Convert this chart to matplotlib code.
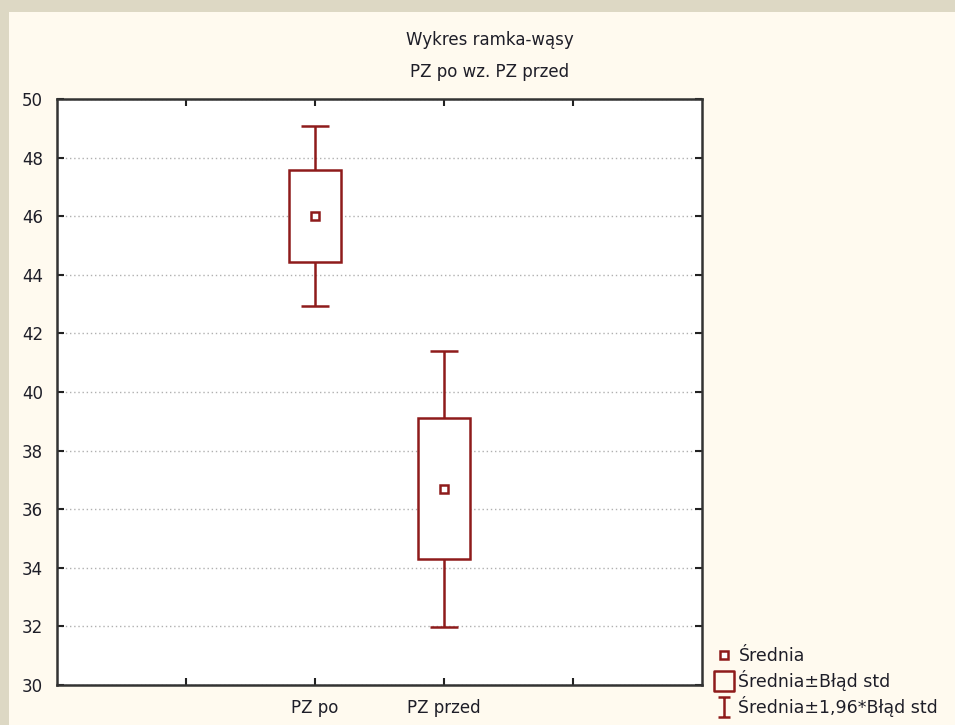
import matplotlib
matplotlib.use("Agg")
import matplotlib.pyplot as plt
import numpy as np
from matplotlib.lines import Line2D
from matplotlib.path import Path
from matplotlib.patches import Rectangle

# data
groups = ['PZ po', 'PZ przed']
means = [46.0, 36.7]
std_err = [1.57, 2.40]
z = 1.96

plt.rcParams['font.family'] = ['DejaVu Sans']
red = '#8e1b1b'
txt = '#1e1e28'

fig = plt.figure(figsize=(9.55, 7.25), dpi=100, facecolor='#ddd8c4')
fig.patches.append(Rectangle((9 / 955, 0), 1, 1 - 12 / 725, transform=fig.transFigure,
                             facecolor='#fffaef', edgecolor='none', zorder=-10))

ax = fig.add_axes([57 / 955, 40 / 725, 645 / 955, 586 / 725])
ax.set_facecolor('white')

pos = np.array([2, 3])
m = np.array(means)
se = np.array(std_err)

lw = 1.8
ax.errorbar(pos, m, yerr=z * se, fmt='none', ecolor=red, elinewidth=lw,
            capsize=10, capthick=lw, zorder=2)
ax.bar(pos, 2 * se, bottom=m - se, width=0.41, facecolor='white',
       edgecolor=red, linewidth=lw, zorder=3)
ax.plot(pos, m, linestyle='none', marker='s', markersize=6, markerfacecolor='white',
        markeredgecolor=red, markeredgewidth=lw, zorder=4)

ax.set_xlim(0, 5)
ax.set_ylim(30, 50)
ax.set_xticks([1, 2, 3, 4])
ax.set_xticklabels(['', groups[0], groups[1], ''], fontsize=12, color=txt)
ax.set_yticks(np.arange(30, 51, 2))
ax.tick_params(axis='y', labelsize=12, labelcolor=txt)
ax.tick_params(direction='in', length=5, width=1.5, color='#222222',
               top=True, right=True, pad=10)
ax.tick_params(axis='x', pad=10)
ax.yaxis.grid(True, linestyle=(0, (1, 2)), color='#b0b0b0', linewidth=1)
ax.set_axisbelow(True)
for s in ax.spines.values():
    s.set_linewidth(1.8)
    s.set_color('#333333')

fig.text(490 / 955, 1 - 40 / 725, 'Wykres ramka-wąsy', ha='center', va='center',
         fontsize=12, color=txt)
fig.text(490 / 955, 1 - 72 / 725, 'PZ po wz. PZ przed', ha='center', va='center',
         fontsize=12, color=txt)

# legend handles
box_path = Path([(-1, -1), (1, -1), (1, 1), (-1, 1), (-1, -1)],
                [Path.MOVETO, Path.LINETO, Path.LINETO, Path.LINETO, Path.CLOSEPOLY])
whisk_path = Path([(-0.55, 1), (0.55, 1), (0, 1), (0, -1), (-0.55, -1), (0.55, -1)],
                  [Path.MOVETO, Path.LINETO, Path.MOVETO, Path.LINETO, Path.MOVETO, Path.LINETO])
handles = [
    Line2D([], [], linestyle='none', marker='s', markersize=6, markerfacecolor='white',
           markeredgecolor=red, markeredgewidth=lw),
    Line2D([], [], linestyle='none', marker=box_path, markersize=14, markerfacecolor='none',
           markeredgecolor=red, markeredgewidth=lw),
    Line2D([], [], linestyle='none', marker=whisk_path, markersize=15, markerfacecolor='none',
           markeredgecolor=red, markeredgewidth=lw),
]
labels = ['Średnia', 'Średnia±Błąd std', 'Średnia±1,96*Błąd std']
fig.legend(handles, labels, loc='lower left', bbox_to_anchor=(708 / 955, 0.0),
           frameon=False, fontsize=12.5, handlelength=1.0, handletextpad=0.3,
           labelspacing=0.3, borderaxespad=0.05, labelcolor=txt)

fig.savefig('out.png', dpi=100, facecolor=fig.get_facecolor())
